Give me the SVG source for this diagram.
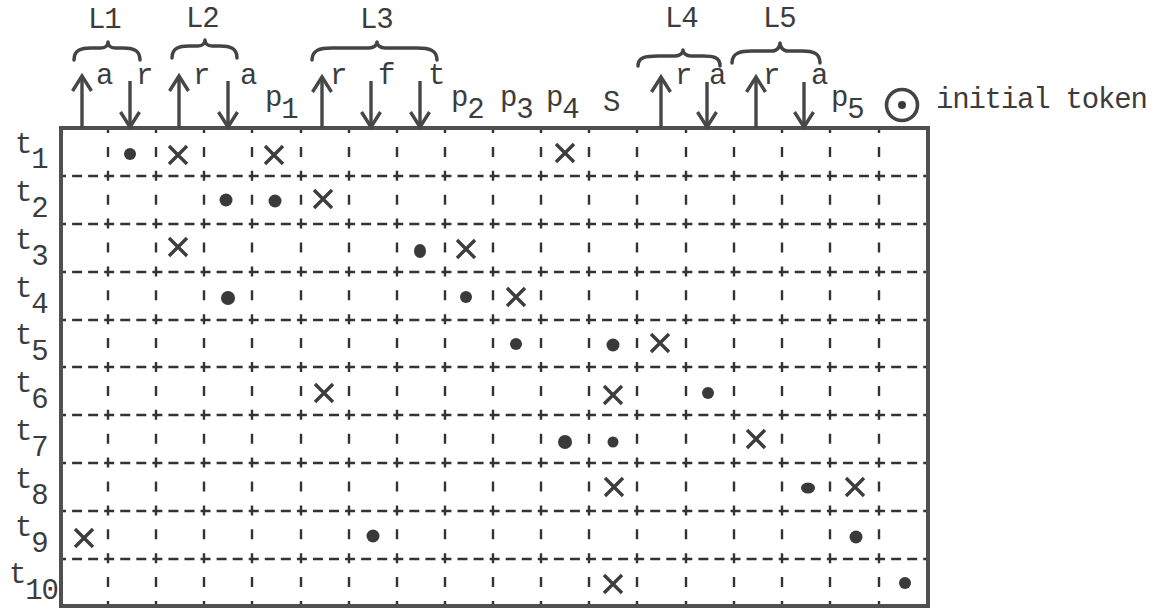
<svg xmlns="http://www.w3.org/2000/svg" xmlns:xlink="http://www.w3.org/1999/xlink" width="1165" height="610" viewBox="0 0 1165 610">
<style>
.txt{font-family:"Liberation Mono","Courier New",monospace;font-size:29px;letter-spacing:-1.2px;fill:#3c3c3c}
.arrow{stroke:#474747;stroke-width:3.4;fill:none}
.brace{stroke:#444;stroke-width:3.5;fill:none;stroke-linecap:round;stroke-linejoin:round}
.dh{stroke:#333;stroke-width:2.4;stroke-dasharray:10 6.06;stroke-dashoffset:5}
.dv{stroke:#333;stroke-width:2.4;stroke-dasharray:10 13.9;stroke-dashoffset:5}
.border{stroke:#505050;stroke-width:4;fill:none}
.dot{fill:#3a3a3a}
</style>
<defs>
<marker id="ah" markerUnits="userSpaceOnUse" markerWidth="30" markerHeight="30" viewBox="-20 -15 30 30" refX="0" refY="0" orient="auto" overflow="visible">
<path d="M-15,-9.5 L0,0 L-15,9.5" fill="none" stroke="#474747" stroke-width="3.4"/>
</marker>
<path id="xm" d="M-9,-9 L9,9 M9,-9 L-9,9" stroke="#3d3d3d" stroke-width="3.4" fill="none"/>
</defs>
<rect width="1165" height="610" fill="#ffffff"/>

<g id="grid">
<g id="hlines" class="dh">
<line x1="61" y1="176" x2="928" y2="176"/>
<line x1="61" y1="224" x2="928" y2="224"/>
<line x1="61" y1="272" x2="928" y2="272"/>
<line x1="61" y1="320" x2="928" y2="320"/>
<line x1="61" y1="367" x2="928" y2="367"/>
<line x1="61" y1="415" x2="928" y2="415"/>
<line x1="61" y1="463" x2="928" y2="463"/>
<line x1="61" y1="511" x2="928" y2="511"/>
<line x1="61" y1="559" x2="928" y2="559"/>
</g>
<g id="vlines" class="dv">
<line x1="108" y1="128" x2="108" y2="606"/>
<line x1="156" y1="128" x2="156" y2="606"/>
<line x1="204" y1="128" x2="204" y2="606"/>
<line x1="252" y1="128" x2="252" y2="606"/>
<line x1="301" y1="128" x2="301" y2="606"/>
<line x1="349" y1="128" x2="349" y2="606"/>
<line x1="397" y1="128" x2="397" y2="606"/>
<line x1="445" y1="128" x2="445" y2="606"/>
<line x1="493" y1="128" x2="493" y2="606"/>
<line x1="541" y1="128" x2="541" y2="606"/>
<line x1="589" y1="128" x2="589" y2="606"/>
<line x1="637" y1="128" x2="637" y2="606"/>
<line x1="686" y1="128" x2="686" y2="606"/>
<line x1="734" y1="128" x2="734" y2="606"/>
<line x1="782" y1="128" x2="782" y2="606"/>
<line x1="830" y1="128" x2="830" y2="606"/>
<line x1="879" y1="128" x2="879" y2="606"/>
</g>
<rect class="border" x="61" y="128" width="867" height="478"/>
</g>

<g id="groups">
<g id="L1">
<text class="txt" x="88" y="28">L1</text>
<path class="brace" d="M74,60 C74,50 81,48 91,48 L101,48 C106,48 108,45 108,42 C108,45 110,48 115,48 L123,48 C133,48 140,50 140,60"/>
<text class="txt" x="96" y="84">a</text>
<text class="txt" x="136" y="84">r</text>
</g>
<g id="L2">
<text class="txt" x="186" y="27">L2</text>
<path class="brace" d="M172,58 C172,48 179,46 189,46 L198,46 C203,46 205,43 205,40 C205,43 207,46 212,46 L220,46 C230,46 237,48 237,58"/>
<text class="txt" x="193" y="84">r</text>
<text class="txt" x="240" y="84">a</text>
</g>
<g id="L3">
<text class="txt" x="360" y="28">L3</text>
<path class="brace" d="M312,60 C312,50 320,48 332,48 L369,48 C374,48 377,45 377,42 C377,45 380,48 385,48 L417,48 C429,48 437,50 437,60"/>
<text class="txt" x="330" y="84">r</text>
<text class="txt" x="378" y="84">f</text>
<text class="txt" x="428" y="84">t</text>
</g>
<g id="L4">
<text class="txt" x="665" y="27">L4</text>
<path class="brace" d="M638,66 C638,57 646,56 658,56 L675,56 C680,56 683,53 683,50 C683,53 686,56 691,56 L703,56 C713,56 720,57 720,66"/>
<text class="txt" x="675" y="84">r</text>
<text class="txt" x="709" y="84">a</text>
</g>
<g id="L5">
<text class="txt" x="763" y="27">L5</text>
<path class="brace" d="M732,63 C732,53 740,51 752,51 L772,51 C777,51 780,47 780,43 C780,47 783,51 788,51 L802,51 C813,51 820,53 820,63"/>
<text class="txt" x="763" y="84">r</text>
<text class="txt" x="811" y="84">a</text>
</g>
</g>

<g id="connectors" class="arrow" marker-end="url(#ah)">
<line x1="82" y1="128" x2="82" y2="76"/>
<line x1="130" y1="81" x2="130" y2="127"/>
<line x1="179" y1="128" x2="179" y2="76"/>
<line x1="228" y1="81" x2="228" y2="127"/>
<line x1="322" y1="128" x2="322" y2="77"/>
<line x1="371" y1="81" x2="371" y2="127"/>
<line x1="420" y1="81" x2="420" y2="127"/>
<line x1="661" y1="128" x2="661" y2="77"/>
<line x1="707" y1="82" x2="707" y2="127"/>
<line x1="756" y1="128" x2="756" y2="77"/>
<line x1="804" y1="82" x2="804" y2="127"/>
</g>

<g id="places">
<text class="txt" x="265" y="106">p<tspan dy="12">1</tspan></text>
<text class="txt" x="451" y="106">p<tspan dy="12">2</tspan></text>
<text class="txt" x="500" y="106">p<tspan dy="12">3</tspan></text>
<text class="txt" x="546" y="106">p<tspan dy="12">4</tspan></text>
<text class="txt" x="603" y="111">S</text>
<text class="txt" x="831" y="106">p<tspan dy="12">5</tspan></text>
</g>

<g id="legend">
<circle cx="902" cy="105" r="15.5" fill="none" stroke="#444" stroke-width="3.6"/>
<circle cx="902" cy="105" r="4" fill="#3a3a3a"/>
<text class="txt" x="936" y="108">initial token</text>
</g>

<g id="rows">
<text class="txt" x="15" y="153">t<tspan dy="15">1</tspan></text>
<text class="txt" x="15" y="201">t<tspan dy="16">2</tspan></text>
<text class="txt" x="15" y="249">t<tspan dy="16">3</tspan></text>
<text class="txt" x="15" y="297">t<tspan dy="16">4</tspan></text>
<text class="txt" x="15" y="344">t<tspan dy="16">5</tspan></text>
<text class="txt" x="15" y="392">t<tspan dy="16">6</tspan></text>
<text class="txt" x="15" y="440">t<tspan dy="16">7</tspan></text>
<text class="txt" x="15" y="488">t<tspan dy="16">8</tspan></text>
<text class="txt" x="15" y="536">t<tspan dy="16">9</tspan></text>
<text class="txt" x="9" y="583">t<tspan dy="16">10</tspan></text>
</g>

<g id="entries">
<g id="t1">
<circle class="dot" cx="130" cy="154" r="6"/>
<use xlink:href="#xm" href="#xm" x="178" y="155"/>
<use xlink:href="#xm" href="#xm" x="274" y="155"/>
<use xlink:href="#xm" href="#xm" x="565" y="153"/>
</g>
<g id="t2">
<circle class="dot" cx="226" cy="200" r="6.5"/>
<circle class="dot" cx="275" cy="201" r="6.5"/>
<use xlink:href="#xm" href="#xm" x="323" y="199"/>
</g>
<g id="t3">
<use xlink:href="#xm" href="#xm" x="178" y="247"/>
<ellipse class="dot" cx="420" cy="251" rx="6" ry="7"/>
<use xlink:href="#xm" href="#xm" x="466" y="249"/>
</g>
<g id="t4">
<circle class="dot" cx="228" cy="298" r="7"/>
<circle class="dot" cx="466" cy="297" r="6"/>
<use xlink:href="#xm" href="#xm" x="516" y="297"/>
</g>
<g id="t5">
<circle class="dot" cx="516" cy="344" r="6"/>
<circle class="dot" cx="613" cy="345" r="6.5"/>
<use xlink:href="#xm" href="#xm" x="660" y="343"/>
</g>
<g id="t6">
<use xlink:href="#xm" href="#xm" x="324" y="393"/>
<use xlink:href="#xm" href="#xm" x="613" y="395"/>
<circle class="dot" cx="708" cy="393" r="6"/>
</g>
<g id="t7">
<circle class="dot" cx="565" cy="442" r="7"/>
<circle class="dot" cx="613" cy="442" r="5.5"/>
<use xlink:href="#xm" href="#xm" x="756" y="439"/>
</g>
<g id="t8">
<use xlink:href="#xm" href="#xm" x="614" y="487"/>
<ellipse class="dot" cx="808" cy="488" rx="7" ry="5.5"/>
<use xlink:href="#xm" href="#xm" x="855" y="487"/>
</g>
<g id="t9">
<use xlink:href="#xm" href="#xm" x="84" y="538"/>
<circle class="dot" cx="373" cy="536" r="6.5"/>
<circle class="dot" cx="856" cy="537" r="6.5"/>
</g>
<g id="t10">
<use xlink:href="#xm" href="#xm" x="613" y="584"/>
<circle class="dot" cx="905" cy="583" r="6"/>
</g>
</g>
</svg>
